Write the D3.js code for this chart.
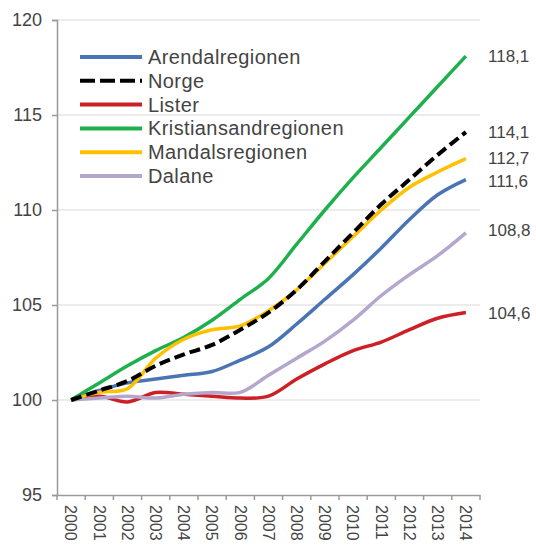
<!DOCTYPE html>
<html>
<head>
<meta charset="utf-8">
<script src="https://cdn.jsdelivr.net/npm/d3@7"></script>
<style>
  body { margin: 0; background: #fff; }
  svg { display: block; font-family: Arial, "Liberation Sans", sans-serif; }
</style>
</head>
<body>
<svg id="chart" width="536" height="547"></svg>
<script>
const years = ["2000","2001","2002","2003","2004","2005","2006","2007","2008","2009","2010","2011","2012","2013","2014"];
const yTicks = [95, 100, 105, 110, 115, 120];

const seriesNames = ["Arendalregionen","Norge","Lister","Kristiansandregionen","Mandalsregionen","Dalane"];
const seriesColors = ["#4a74b4","#000000","#cc1f26","#1fb04e","#ffc000","#b4a6cc"];
const seriesDash = [null, "11,5", null, null, null, null];

const arendal       = [100, 100.5, 100.9, 101.1, 101.3, 101.5, 102.1, 102.8, 104.0, 105.3, 106.6, 108.0, 109.5, 110.8, 111.6];
const norge         = [100, 100.5, 101.0, 101.8, 102.4, 102.9, 103.7, 104.6, 105.8, 107.3, 108.8, 110.3, 111.6, 112.9, 114.1];
const lister        = [100, 100.2, 99.9, 100.4, 100.3, 100.2, 100.1, 100.2, 101.1, 101.9, 102.6, 103.05, 103.7, 104.3, 104.6];
const kristiansand  = [100, 100.9, 101.8, 102.6, 103.3, 104.2, 105.3, 106.4, 108.2, 110.0, 111.7, 113.3, 114.9, 116.5, 118.1];
const mandal        = [100, 100.4, 100.6, 102.2, 103.2, 103.7, 103.9, 104.7, 105.8, 107.2, 108.6, 110.0, 111.2, 112.0, 112.7];
const dalane        = [100, 100.1, 100.2, 100.1, 100.3, 100.4, 100.4, 101.3, 102.2, 103.1, 104.2, 105.5, 106.6, 107.6, 108.8];

const endLabels = ["118,1","114,1","112,7","111,6","108,8","104,6"];
const endLabelValues = [118.1, 114.1, 112.75, 111.55, 108.95, 104.6];

const allValues = [arendal, norge, lister, kristiansand, mandal, dalane];

const svg = d3.select("#chart");
const mLeft = 57, mRight = 480, mTop = 20, mBottom = 495;

const x = d3.scaleBand().domain(years).range([mLeft, mRight]).padding(0);
const y = d3.scaleLinear().domain([95, 120]).range([mBottom, mTop]);

// gridlines
svg.append("g").selectAll("line").data(yTicks.filter(d => d > 95)).join("line")
  .attr("x1", mLeft).attr("x2", mRight)
  .attr("y1", d => y(d)).attr("y2", d => y(d))
  .attr("stroke", "#e6e6e6").attr("stroke-width", 1.5);

// y axis
const yAxis = svg.append("g").attr("transform", `translate(${mLeft},0)`)
  .call(d3.axisLeft(y).tickValues(yTicks).tickSize(5).tickPadding(10).tickFormat(d3.format("d")));
yAxis.select(".domain").attr("stroke", "#9a9a9a").attr("stroke-width", 1.5);
yAxis.selectAll(".tick line").attr("stroke", "#9a9a9a").attr("stroke-width", 1.5);
yAxis.selectAll("text").attr("font-size", 18).attr("fill", "#444").attr("font-family", "Arial, 'Liberation Sans', sans-serif");

// x axis
const xAxis = svg.append("g").attr("transform", `translate(0,${mBottom})`)
  .call(d3.axisBottom(x).tickSize(0).tickSizeOuter(0));
xAxis.select(".domain").attr("stroke", "#9a9a9a").attr("stroke-width", 1.5);
xAxis.selectAll(".tick text")
  .attr("font-size", 16).attr("fill", "#444")
  .attr("font-family", "Arial, 'Liberation Sans', sans-serif")
  .attr("text-anchor", "start")
  .attr("transform", "rotate(90)")
  .attr("x", 10).attr("y", 0).attr("dy", "0.35em");
// tick marks at category boundaries
const boundaries = years.map(d => x(d)).concat([mRight]);
svg.append("g").selectAll("line").data(boundaries).join("line")
  .attr("x1", d => d).attr("x2", d => d)
  .attr("y1", mBottom).attr("y2", mBottom + 5)
  .attr("stroke", "#9a9a9a").attr("stroke-width", 1.5);

// lines
const line = d3.line()
  .x((d, i) => x(years[i]) + x.bandwidth() / 2)
  .y(d => y(d))
  .curve(d3.curveCatmullRom.alpha(0.5));

const drawOrder = [0, 2, 3, 4, 5, 1];
svg.append("g").selectAll("path").data(drawOrder).join("path")
  .attr("d", i => line(allValues[i]))
  .attr("fill", "none")
  .attr("stroke", i => seriesColors[i])
  .attr("stroke-width", i => i === 1 ? 4 : 3.5)
  .attr("stroke-dasharray", i => seriesDash[i])
  .attr("stroke-linejoin", "round");

// end labels
svg.append("g").selectAll("text").data(endLabels).join("text")
  .attr("x", 488)
  .attr("y", (d, i) => y(endLabelValues[i]))
  .attr("dy", "0.35em")
  .attr("font-size", 17).attr("fill", "#444")
  .text(d => d);

// legend
const legend = svg.append("g");
const legY0 = 57, legStep = 23.8;
seriesNames.forEach((name, i) => {
  const yy = legY0 + i * legStep;
  legend.append("line")
    .attr("x1", 80).attr("x2", 142).attr("y1", yy).attr("y2", yy)
    .attr("stroke", seriesColors[i]).attr("stroke-width", 4)
    .attr("stroke-dasharray", seriesDash[i] ? "15,5" : null);
  legend.append("text")
    .attr("x", 148).attr("y", yy).attr("dy", "0.35em")
    .attr("font-size", 20).attr("letter-spacing", "0.4px").attr("fill", "#444")
    .text(name);
});
</script>
</body>
</html>
